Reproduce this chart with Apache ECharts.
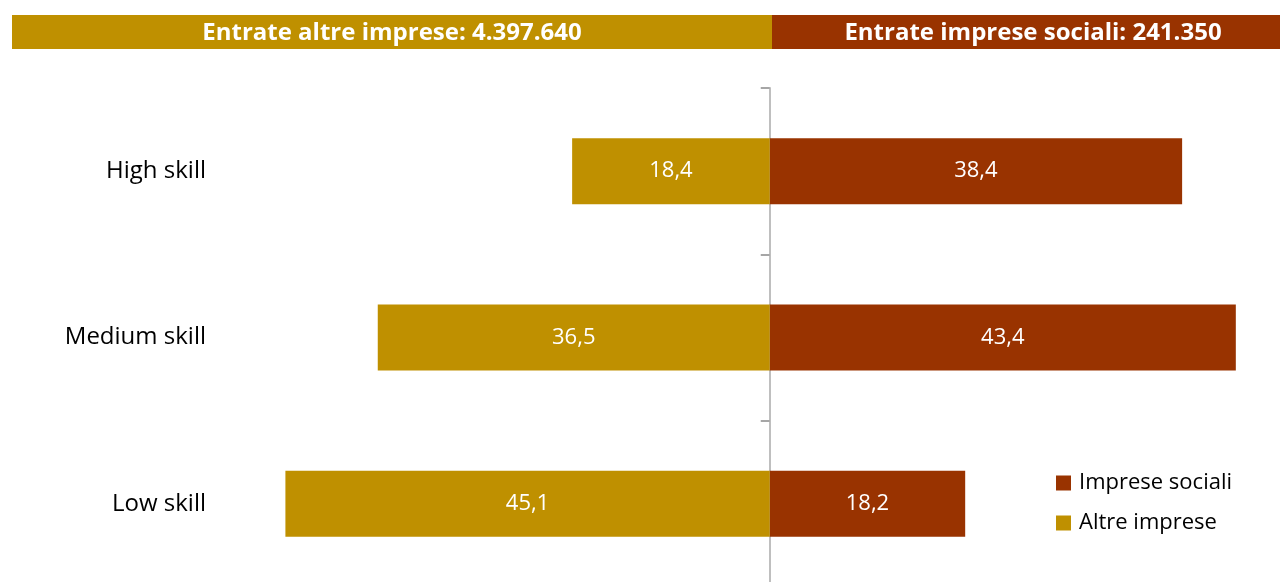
<!DOCTYPE html>
<html>
<head>
<meta charset="utf-8">
<script src="https://cdn.jsdelivr.net/npm/echarts@6/dist/echarts.min.js"></script>
<style>
html,body{margin:0;padding:0;background:#fff;}
#chart{width:1280px;height:582px;}
</style>
</head>
<body>
<div id="chart"></div>
<script>
var categories = ['High skill', 'Medium skill', 'Low skill'];
var impreseSociali = [38.4, 43.4, 18.2];
var altreImprese = [18.4, 36.5, 45.1];
var headerLeft = 'Entrate altre imprese: 4.397.640';
var headerRight = 'Entrate imprese sociali: 241.350';

var GOLD = '#BF9000';
var RED = '#993300';
var FONT = 'Open Sans';

function fmt(v) { return Math.abs(v).toFixed(1).replace('.', ','); }

var chart = echarts.init(document.getElementById('chart'));
chart.setOption({
  animation: false,
  textStyle: { fontFamily: FONT },
  grid: { left: 18, width: 1235, top: 88, height: 499, containLabel: false, outerBoundsMode: 'none' },
  xAxis: {
    type: 'value', min: -70, max: 45, show: false
  },
  yAxis: {
    type: 'category', data: categories, inverse: true,
    axisLine: { onZero: true, lineStyle: { color: '#BFBFBF', width: 2 } },
    axisTick: { show: true, length: 9, lineStyle: { color: '#A6A6A6', width: 2 } },
    axisLabel: { margin: -188, align: 'right', fontSize: 24, color: '#000', fontFamily: FONT, padding: [4, 0, 0, 0] }
  },
  legend: {
    orient: 'vertical', left: 1051, top: 467,
    itemWidth: 15, itemHeight: 15, itemGap: 18,
    icon: 'rect',
    textStyle: { fontSize: 22, color: '#000', fontFamily: FONT, padding: [0, 0, 0, 3] },
    data: ['Imprese sociali', 'Altre imprese']
  },
  series: [
    {
      name: 'Imprese sociali', type: 'bar', stack: 'tot', barWidth: 66,
      data: impreseSociali,
      itemStyle: { color: RED },
      label: { show: true, position: 'inside', color: '#fff', fontSize: 22, fontFamily: FONT, padding: [3, 0, 0, 0],
        formatter: function (p) { return fmt(p.value); } }
    },
    {
      name: 'Altre imprese', type: 'bar', stack: 'tot', barWidth: 66,
      data: altreImprese.map(function (v) { return -v; }),
      itemStyle: { color: GOLD },
      label: { show: true, position: 'inside', color: '#fff', fontSize: 22, fontFamily: FONT, padding: [3, 0, 0, 0],
        formatter: function (p) { return fmt(p.value); } }
    }
  ],
  graphic: [
    { type: 'rect', shape: { x: 12, y: 15, width: 760, height: 34 }, style: { fill: GOLD }, z: 10 },
    { type: 'rect', shape: { x: 772, y: 15, width: 508, height: 34 }, style: { fill: RED }, z: 10 },
    { type: 'text', x: 392, y: 33, z: 11, style: { text: headerLeft, fill: '#fff', font: 'bold 24px ' + FONT, textAlign: 'center', textVerticalAlign: 'middle' } },
    { type: 'text', x: 1033, y: 33, z: 11, style: { text: headerRight, fill: '#fff', font: 'bold 24px ' + FONT, textAlign: 'center', textVerticalAlign: 'middle' } }
  ]
});
</script>
</body>
</html>
